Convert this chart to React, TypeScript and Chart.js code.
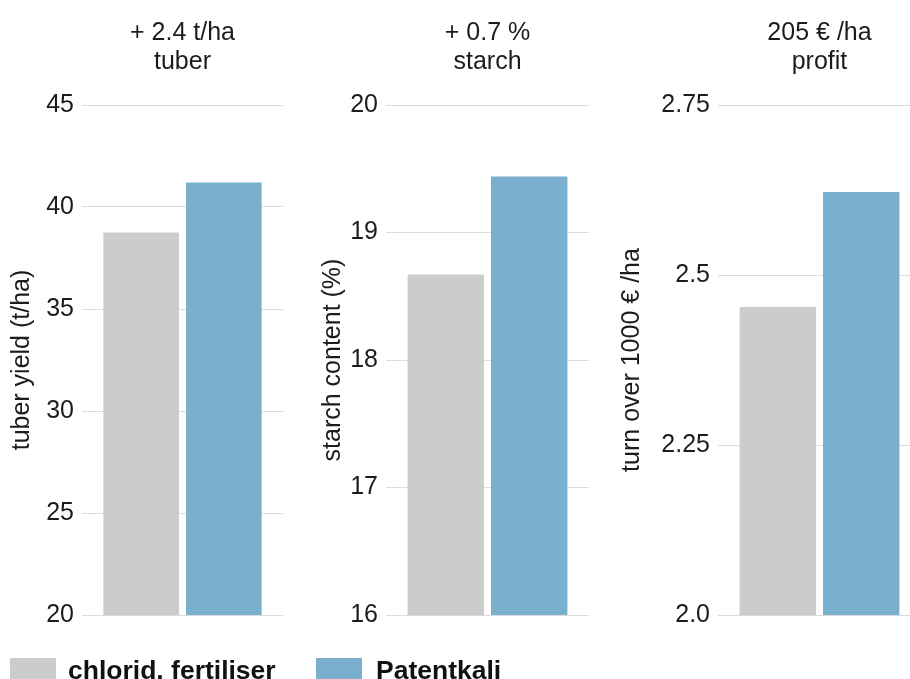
import React, { useEffect, useRef } from "react";
import { Chart, registerables } from "chart.js";

Chart.register(...registerables);

// Series shown in every panel
const seriesNames = ["chlorid. fertiliser", "Patentkali"];
const chloridValues = [38.75, 18.67, 2.453];
const patentkaliValues = [41.2, 19.44, 2.622];

// Panel headings and axis settings
const panelTitles = [
  ["+ 2.4 t/ha", "tuber"],
  ["+ 0.7 %", "starch"],
  ["205 € /ha", "profit"],
];
const axisTitles = ["tuber yield (t/ha)", "starch content (%)", "turn over 1000 € /ha"];
const axisMin = [20, 16, 2.0];
const axisMax = [45, 20, 2.75];
const axisStep = [5, 1, 0.25];

const GRAY = "#cccccc";
const BLUE = "#7bafce";
const TEXT = "#1c1c1c";
const FONT = "'Liberation Sans', Arial, sans-serif";

// Panel geometry: canvas left edge, y-axis box width, chart width
const panelLeft = [0, 311, 610];
const axisWidth = [82, 75, 108];
const canvasWidth = [283, 278, 311];
const CANVAS_H = 679;

function formatTick(v: number, panel: number): string {
  if (panel === 2 && v === 2) return "2.0";
  return String(v);
}

function Panel({ index }: { index: number }) {
  const ref = useRef<HTMLCanvasElement | null>(null);
  useEffect(() => {
    if (!ref.current) return;
    const chart = new Chart(ref.current, {
      type: "bar",
      data: {
        labels: [panelTitles[index][1]],
        datasets: [
          {
            label: seriesNames[0],
            data: [chloridValues[index]],
            backgroundColor: GRAY,
            categoryPercentage: 0.822,
            barPercentage: 0.9157,
          },
          {
            label: seriesNames[1],
            data: [patentkaliValues[index]],
            backgroundColor: BLUE,
            categoryPercentage: 0.822,
            barPercentage: 0.9157,
          },
        ],
      },
      options: {
        responsive: false,
        animation: false,
        layout: { padding: { top: 0, bottom: CANVAS_H - 615, left: 0, right: 0 } },
        plugins: {
          legend: { display: false },
          tooltip: { enabled: false },
          title: {
            display: true,
            text: panelTitles[index],
            fullSize: false,
            color: TEXT,
            font: { family: FONT, size: 25, weight: "normal", lineHeight: 1.14 },
            padding: { top: 19, bottom: 29 },
          },
        },
        scales: {
          x: { display: false },
          y: {
            min: axisMin[index],
            max: axisMax[index],
            afterFit: (scale: any) => {
              scale.width = axisWidth[index];
            },
            border: { display: false },
            grid: { color: "#dcdcdc", lineWidth: 1, drawTicks: false },
            ticks: {
              stepSize: axisStep[index],
              padding: 8,
              color: TEXT,
              font: { family: FONT, size: 25 },
              callback: (v: any) => formatTick(Number(v), index),
            },
            title: {
              display: true,
              text: axisTitles[index],
              color: TEXT,
              font: { family: FONT, size: 25 },
              padding: { top: 7, bottom: 0 },
            },
          },
        },
      },
    } as any);
    return () => chart.destroy();
  }, [index]);
  return (
    <canvas
      ref={ref}
      width={canvasWidth[index]}
      height={CANVAS_H}
      style={{ position: "absolute", left: panelLeft[index], top: 0 }}
    />
  );
}

function LegendItem({ left, textLeft, color, label }: { left: number; textLeft: number; color: string; label: string }) {
  return (
    <>
      <div style={{ position: "absolute", left, top: 658, width: 46, height: 26, background: color }} />
      <div
        style={{
          position: "absolute",
          left: textLeft,
          top: 655,
          font: `bold 26.5px ${FONT}`,
          lineHeight: "30px",
          color: "#111",
          whiteSpace: "nowrap",
        }}
      >
        {label}
      </div>
    </>
  );
}

export default function App() {
  return (
    <div
      style={{
        position: "fixed",
        left: 0,
        top: 0,
        width: 910,
        height: 679,
        overflow: "hidden",
        background: "#fff",
      }}
    >
      <Panel index={0} />
      <Panel index={1} />
      <Panel index={2} />
      <LegendItem left={10} textLeft={68} color={GRAY} label={seriesNames[0]} />
      <LegendItem left={316} textLeft={376} color={BLUE} label={seriesNames[1]} />
    </div>
  );
}
